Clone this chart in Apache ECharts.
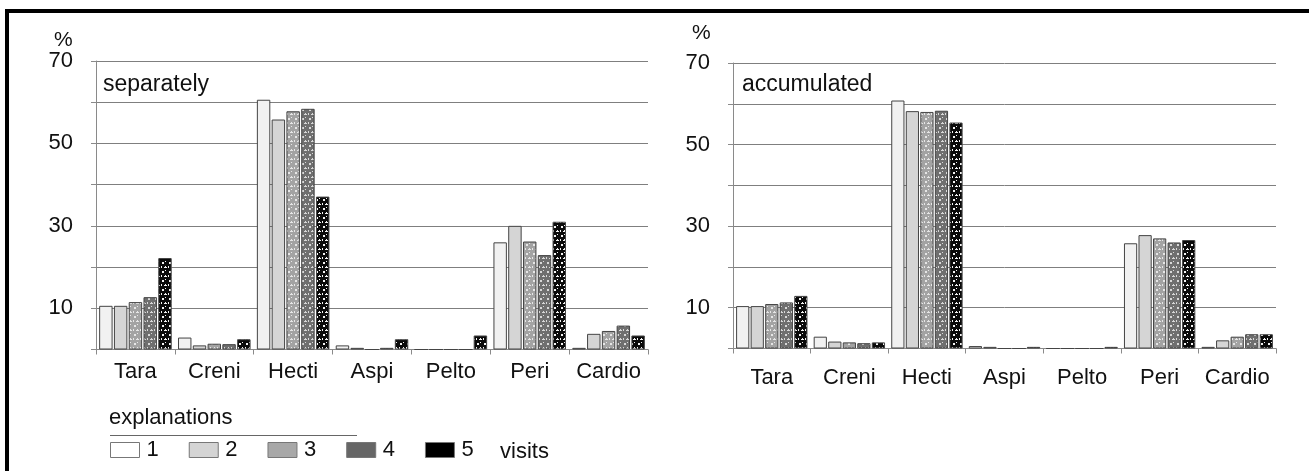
<!DOCTYPE html>
<html>
<head>
<meta charset="utf-8">
<script src="https://cdn.jsdelivr.net/npm/echarts@6/dist/echarts.min.js"></script>
<style>
  html, body { margin: 0; padding: 0; background: #fff; }
  #chart { width: 1309px; height: 471px; }
</style>
</head>
<body>
<div id="chart"></div>
<script>
// ---- data ----
const categories = ['Tara', 'Creni', 'Hecti', 'Aspi', 'Pelto', 'Peri', 'Cardio'];
const visitNames = ['1', '2', '3', '4', '5'];
const yTickLabels = [10, 30, 50, 70];

// separately (left panel), one array per visit
const sep1 = [10.6, 2.9, 60.6, 1.0, 0, 26.0, 0.4];
const sep2 = [10.6, 1.0, 55.8, 0.4, 0, 30.0, 3.8];
const sep3 = [11.5, 1.4, 57.8, 0, 0, 26.2, 4.5];
const sep4 = [12.7, 1.3, 58.4, 0.4, 0, 22.9, 5.8];
const sep5 = [22.2, 2.5, 37.1, 2.5, 3.4, 31.0, 3.4];

// accumulated (right panel)
const acc1 = [10.4, 2.9, 60.8, 0.6, 0, 25.8, 0.4];
const acc2 = [10.4, 1.7, 58.2, 0.4, 0, 27.8, 2.0];
const acc3 = [10.9, 1.5, 58.0, 0, 0, 27.0, 2.9];
const acc4 = [11.3, 1.3, 58.3, 0, 0, 26.0, 3.5];
const acc5 = [12.9, 1.5, 55.4, 0.4, 0.4, 26.6, 3.5];

const sepData = [sep1, sep2, sep3, sep4, sep5];
const accData = [acc1, acc2, acc3, acc4, acc5];

// ---- styles ----
const FONT = 'Liberation Sans, Arial, sans-serif';
function makePattern(bg, fg) {
  const c = document.createElement('canvas');
  c.width = 7; c.height = 9;
  const g = c.getContext('2d');
  g.fillStyle = bg; g.fillRect(0, 0, 7, 9);
  g.fillStyle = fg;
  g.fillRect(1, 1, 2, 2);
  g.fillRect(4, 0, 1, 1);
  g.fillRect(4, 5, 1, 1);
  g.fillRect(3, 6, 3, 1);
  g.fillRect(0, 5, 1, 2);
  return { image: c, repeat: 'repeat' };
}
const fills = [
  '#f1f1f1',
  '#d5d5d5',
  makePattern('#a3a3a3', '#e6e6e6'),
  makePattern('#6f6f6f', '#d8d8d8'),
  makePattern('#0a0a0a', '#f4f4f4')
];
const legendColors = ['#ffffff', '#d4d4d4', '#a8a8a8', '#666666', '#000000'];

function yAxis(gi) {
  return {
    type: 'value', gridIndex: gi, min: 0, max: 70, interval: 10,
    axisLine: { show: true, lineStyle: { color: '#8a8a8a', width: 1 } },
    axisTick: { show: true, length: 5, lineStyle: { color: '#8a8a8a' } },
    splitLine: { show: true, lineStyle: { color: '#7f7f7f', width: 1 } },
    axisLabel: {
      margin: 23, fontFamily: FONT, fontSize: 22, color: '#111',
      formatter: v => (yTickLabels.indexOf(v) >= 0 ? String(v) : '')
    }
  };
}
function xAxis(gi, margin) {
  return {
    type: 'category', gridIndex: gi, data: categories,
    axisLine: { show: true, lineStyle: { color: '#8a8a8a', width: 1 } },
    axisTick: { show: true, length: 5, alignWithLabel: false, lineStyle: { color: '#8a8a8a' } },
    axisLabel: { margin: margin, fontFamily: FONT, fontSize: 22, color: '#111', interval: 0 }
  };
}
function seriesFor(data, gi) {
  return data.map((arr, i) => ({
    name: visitNames[i], type: 'bar', xAxisIndex: gi, yAxisIndex: gi,
    data: arr, barGap: '10%', barCategoryGap: '8%',
    itemStyle: { color: fills[i], borderColor: '#444', borderWidth: 1 },
    silent: true, animation: false
  }));
}
const titleStyle = size => ({ fontFamily: FONT, fontSize: size, fontWeight: 'normal', color: '#111' });

const chart = echarts.init(document.getElementById('chart'), null, { renderer: 'canvas' });
chart.setOption({
  animation: false,
  backgroundColor: '#ffffff',
  grid: [
    { left: 96, right: 661, top: 61, bottom: 121.5, containLabel: false },
    { left: 733, right: 33, top: 63, bottom: 122.5, containLabel: false }
  ],
  xAxis: [xAxis(0, 11), xAxis(1, 18)],
  yAxis: [yAxis(0), yAxis(1)],
  title: [
    { text: '%', left: 54, top: 30, padding: 0, textStyle: titleStyle(21) },
    { text: '%', left: 692, top: 23, padding: 0, textStyle: titleStyle(21) },
    { text: 'separately', left: 103, top: 73, padding: 0, textStyle: titleStyle(23) },
    { text: 'accumulated', left: 742, top: 73, padding: 0, textStyle: titleStyle(23) }
  ],
  legend: {
    left: 110, top: 439, orient: 'horizontal', padding: 0,
    itemWidth: 29, itemHeight: 15, itemGap: 30,
    icon: 'rect', selectedMode: false,
    textStyle: { fontFamily: FONT, fontSize: 22, color: '#111', padding: [0, 0, 0, 2] },
    data: visitNames.map((n, i) => ({
      name: n,
      itemStyle: { color: legendColors[i], borderColor: '#777', borderWidth: 1 }
    }))
  },
  graphic: [
    { type: 'rect', shape: { x: 5, y: 9, width: 1304, height: 4 }, style: { fill: '#000' }, silent: true },
    { type: 'rect', shape: { x: 5, y: 9, width: 4, height: 462 }, style: { fill: '#000' }, silent: true },
    { type: 'text', left: 109, top: 407, style: { text: 'explanations', font: '22px ' + FONT, fill: '#111' }, silent: true },
    { type: 'line', shape: { x1: 110, y1: 435.5, x2: 357, y2: 435.5 }, style: { stroke: '#666', lineWidth: 1 }, silent: true },
    { type: 'text', left: 500, top: 441, style: { text: 'visits', font: '22px ' + FONT, fill: '#111' }, silent: true }
  ],
  series: [...seriesFor(sepData, 0), ...seriesFor(accData, 1)]
});
</script>
</body>
</html>
